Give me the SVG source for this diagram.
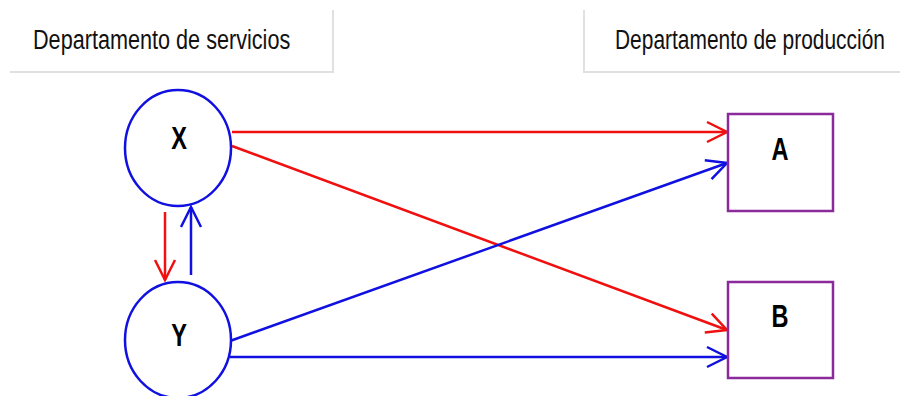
<svg xmlns="http://www.w3.org/2000/svg" width="900" height="396" viewBox="0 0 900 396">
<style>
.hdr{font-family:"Liberation Sans",Arial,sans-serif;font-size:27px;fill:#111}
.lbl{font-family:"Liberation Sans",Arial,sans-serif;font-size:31px;font-weight:bold;fill:#000;text-anchor:middle}
.circ{fill:#fff;stroke:#1010E0;stroke-width:2.5}
.box{fill:#fff;stroke:#8B2A9B;stroke-width:2.5}
.red{stroke:#F01010;stroke-width:2.5;fill:none}
.blue{stroke:#1010E0;stroke-width:2.5;fill:none}
.sep{stroke:#E0E0E0;stroke-width:2;fill:none}
</style>
<defs>
<marker id="ar" markerUnits="userSpaceOnUse" markerWidth="30" markerHeight="30" viewBox="-25 -15 30 30" refX="0" refY="0" orient="auto">
<path d="M-20,-10 L0,0 L-20,10" fill="none" stroke="#F01010" stroke-width="2.5"/>
</marker>
<marker id="ab" markerUnits="userSpaceOnUse" markerWidth="30" markerHeight="30" viewBox="-25 -15 30 30" refX="0" refY="0" orient="auto">
<path d="M-20,-10 L0,0 L-20,10" fill="none" stroke="#1010E0" stroke-width="2.5"/>
</marker>
</defs>
<rect width="900" height="396" fill="#fff"/>
<g id="header-servicios">
<path class="sep" d="M10,72 H333 V10"/>
<text class="hdr" transform="translate(33,49) scale(0.75,1)" textLength="343" lengthAdjust="spacingAndGlyphs">Departamento de servicios</text>
</g>
<g id="header-produccion">
<path class="sep" d="M584,10 V72 H900"/>
<text class="hdr" transform="translate(615,49) scale(0.75,1)" textLength="360" lengthAdjust="spacingAndGlyphs">Departamento de producción</text>
</g>
<g id="connectors">
<line class="red" x1="232" y1="132" x2="727" y2="132" marker-end="url(#ar)"/>
<line class="red" x1="232" y1="146" x2="727" y2="330" marker-end="url(#ar)"/>
<line class="blue" x1="230" y1="341" x2="727" y2="163" marker-end="url(#ab)"/>
<line class="blue" x1="230" y1="357" x2="727" y2="357" marker-end="url(#ab)"/>
<line class="red" x1="165" y1="212" x2="165" y2="280" marker-end="url(#ar)"/>
<line class="blue" x1="191" y1="275" x2="191" y2="207" marker-end="url(#ab)"/>
</g>
<g id="node-X">
<ellipse class="circ" cx="178" cy="148" rx="53" ry="58"/>
<text class="lbl" transform="translate(179,149) scale(0.76,1)">X</text>
</g>
<g id="node-Y">
<ellipse class="circ" cx="178" cy="340" rx="53" ry="58"/>
<text class="lbl" transform="translate(179,346) scale(0.76,1)">Y</text>
</g>
<g id="node-A">
<rect class="box" x="728" y="114" width="105" height="97"/>
<text class="lbl" transform="translate(780,160) scale(0.76,1)">A</text>
</g>
<g id="node-B">
<rect class="box" x="728" y="282" width="105" height="96"/>
<text class="lbl" transform="translate(780,327) scale(0.76,1)">B</text>
</g>
</svg>
